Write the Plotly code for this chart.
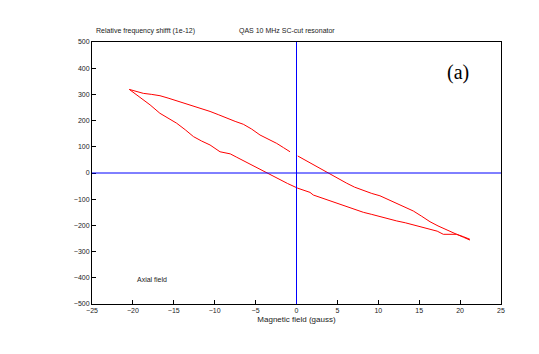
import plotly.graph_objects as go

# Upper branch (field sweep), relative frequency shift in 1e-12
upper_x = [-20.44, -19.6, -18.73, -17.7, -16.69, -15.7, -14.65, -13.6, -12.62, -11.6, -10.57,
           -9.5, -8.53, -7.5, -6.50, -5.5, -4.46, -3.4, -2.42, -1.6, -0.79]
upper_y = [319, 312, 304, 300, 295, 286, 276, 266, 256, 246, 235,
           222, 209, 197, 186, 168, 145, 130, 113, 97, 81]
upper2_x = [0.15, 1.0, 2.05, 2.9, 3.69, 4.9, 6.14, 7.1, 8.17, 9.2, 10.2, 11.2, 12.25, 13.3,
            14.28, 15.3, 16.32, 17.3, 18.36, 19.0, 19.58, 20.4, 21.2]
upper2_y = [65, 50, 31, 15, 3, -20, -39, -54, -67, -78, -87, -101, -116, -131,
            -145, -165, -186, -202, -218, -226, -234, -245, -256]
# Lower branch
lower_x = [-20.44, -19.5, -18.7, -17.9, -16.7, -15.7, -14.65, -13.6, -12.6, -11.6, -10.57,
           -9.35, -8.1, -7.3, -6.5, -5.2, -3.85, -2.42, -1.1, 0.15, 1.65, 2.05, 3.1, 4.1,
           5.1, 6.14, 7.2, 8.17, 9.2, 10.2, 11.2, 12.25, 13.3, 14.28, 15.3, 16.32, 17.2,
           17.95, 18.8, 19.58, 20.4, 21.2]
lower_y = [319, 298, 280, 260, 228, 208, 190, 165, 139, 122, 107,
           81, 73, 60, 47, 27, 5, -20, -40, -58, -74, -84, -95, -106,
           -118, -129, -140, -150, -158, -167, -175, -183, -190, -198, -206, -214, -222,
           -234, -234, -234, -243, -253]

x_ticks = list(range(-25, 26, 5))
y_ticks = list(range(-500, 501, 100))

fig = go.Figure()
line_style = dict(color="#ff0000", width=1)
fig.add_trace(go.Scatter(x=upper_x + [None] + upper2_x, y=upper_y + [None] + upper2_y,
                         mode="lines", line=line_style, showlegend=False))
fig.add_trace(go.Scatter(x=lower_x, y=lower_y, mode="lines", line=line_style, showlegend=False))

fig.add_shape(type="line", x0=-25, x1=25, y0=0, y1=0, xref="x", yref="y",
              line=dict(color="#0000ff", width=1))
fig.add_shape(type="line", x0=0, x1=0, y0=-500, y1=500, xref="x", yref="y",
              line=dict(color="#0000ff", width=1))

font = dict(family="Liberation Sans, Arial, sans-serif", size=7, color="#222222")

fig.update_layout(
    width=539, height=354,
    margin=dict(l=92, r=38, t=42, b=50),
    paper_bgcolor="white", plot_bgcolor="white",
    font=font,
    xaxis=dict(range=[-25, 25], tickvals=x_ticks, showgrid=False, zeroline=False,
               showline=True, linecolor="black", linewidth=1, mirror=True,
               ticks="inside", ticklen=4, tickcolor="black",
               title=dict(text="Magnetic field (gauss)", standoff=2)),
    yaxis=dict(range=[-500, 500], tickvals=y_ticks, showgrid=False, zeroline=False,
               showline=True, linecolor="black", linewidth=1, mirror=True,
               ticks="inside", ticklen=4, tickcolor="black",
               ticksuffix="\u00a0\u00a0\u00a0"),
    annotations=[
        dict(text="Relative frequency shifft (1e-12)", x=94, y=354 - 31, xref="paper", yref="paper",
             showarrow=False, xanchor="left", yanchor="middle"),
        dict(text="QAS 10 MHz SC-cut resonator", x=237, y=354 - 31, xref="paper", yref="paper",
             showarrow=False, xanchor="left", yanchor="middle"),
        dict(text="Axial field", x=-19.8, y=-405, xref="x", yref="y",
             showarrow=False, xanchor="left", yanchor="middle"),
        dict(text="(a)", x=19.7, y=383, xref="x", yref="y", showarrow=False,
             font=dict(family="Liberation Serif, Times New Roman, serif", size=20, color="black"),
             xanchor="center", yanchor="middle"),
    ],
)

# convert pixel-based annotation positions to paper coords
pw = 539 - 92 - 38
ph = 354 - 42 - 50
for a in fig.layout.annotations[:2]:
    a.x = (a.x - 92) / pw
    a.y = (a.y - 50) / ph

fig.write_html("out.html")
